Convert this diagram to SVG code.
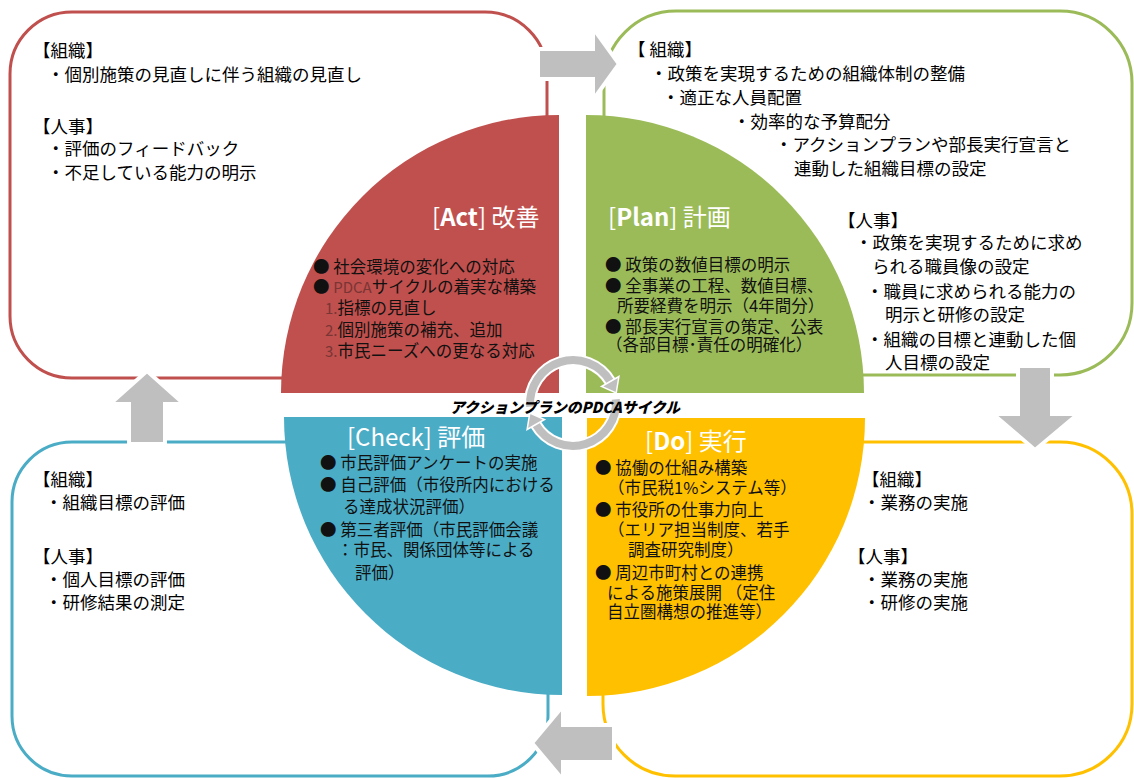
<svg xmlns="http://www.w3.org/2000/svg" width="1134" height="778" viewBox="0 0 1134 778">
<style>
.box{fill:#fff;stroke-width:3}
.arr{fill:#BFBFBF;stroke:#fff;stroke-width:4;stroke-linejoin:miter}
.t{font-family:"Noto Sans CJK JP","Noto Sans",sans-serif;font-size:17.5px;fill:#000}
.q{font-family:"Noto Sans CJK JP","Noto Sans",sans-serif;font-size:16.5px;fill:#111}
.h{font-family:"Noto Sans CJK JP","Noto Sans",sans-serif;font-size:24px;fill:#fff}
.b{font-weight:bold}
.dk{fill:#7a3535;font-size:15px}
.ring{fill:none;stroke:#BFBFBF;stroke-width:8}
.ringw{fill:none;stroke:#fff;stroke-width:12}
.lbl{font-family:"Noto Sans CJK JP","Noto Sans",sans-serif;font-size:15px;font-weight:900;font-style:italic;fill:#000}
</style>
<rect width="1134" height="778" fill="#fff"/>
<g id="box-act"><rect class="box" x="10" y="12" width="537" height="366" rx="62" stroke="#C0504D"/></g>
<g id="box-plan"><rect class="box" x="604" y="11" width="528" height="364" rx="72" stroke="#9BBB59"/></g>
<g id="box-check"><rect class="box" x="12" y="442" width="536" height="334" rx="60" stroke="#4BACC6"/></g>
<g id="box-do"><rect class="box" x="603" y="442" width="529" height="334" rx="72" stroke="#FFC000"/></g>
<g id="connectors">
<polygon class="arr" points="538,49 593,49 593,28 619,64 593,100 593,79 538,79"/>
<polygon class="arr" points="1018,366 1052,366 1052,414 1078,414 1035,450 993,414 1018,414"/>
<polygon class="arr" points="614,725 563,725 563,706 532,743 563,780 563,762 614,762"/>
<polygon class="arr" points="129,444 129,404 110,404 147,371 184,404 165,404 165,444"/>
</g>
<g id="quad-act"><path d="M559,393 L281,393 A278,278 0 0 1 559,115 Z" fill="#C0504D"/>
<text class="h" x="432" y="226">[<tspan class="b">Act</tspan>] 改善</text>
<text class="q" x="313" y="273">● 社会環境の変化への対応</text>
<text class="q" x="313" y="293">● <tspan class="dk">PDCA</tspan>サイクルの着実な構築</text>
<text class="q" x="325" y="314"><tspan class="dk">1.</tspan>指標の見直し</text>
<text class="q" x="325" y="336"><tspan class="dk">2.</tspan>個別施策の補充、追加</text>
<text class="q" x="325" y="357"><tspan class="dk">3.</tspan>市民ニーズへの更なる対応</text>
</g>
<g id="quad-plan"><path d="M586,393 L586,115 A278,278 0 0 1 864,393 Z" fill="#9BBB59"/>
<text class="h" x="608" y="226">[<tspan class="b">Plan</tspan>] 計画</text>
<text class="q" x="605" y="271">● 政策の数値目標の明示</text>
<text class="q" x="605" y="292">● 全事業の工程、数値目標、</text>
<text class="q" x="617" y="312">所要経費を明示（4年間分）</text>
<text class="q" x="605" y="333">● 部長実行宣言の策定、公表</text>
<text class="q" x="606" y="351">（各部目標･責任の明確化）</text>
</g>
<g id="quad-check"><path d="M562,417 L562,695 A278,278 0 0 1 284,417 Z" fill="#4BACC6"/>
<text class="h" x="347" y="446">[Check] 評価</text>
<text class="q" x="320" y="469">● 市民評価アンケートの実施</text>
<text class="q" x="320" y="491">● 自己評価（市役所内における</text>
<text class="q" x="343" y="513">る達成状況評価）</text>
<text class="q" x="320" y="536">● 第三者評価（市民評価会議</text>
<text class="q" x="337" y="556">：市民、関係団体等による</text>
<text class="q" x="355" y="579">評価）</text>
</g>
<g id="quad-do"><path d="M587,418 L865,418 A278,278 0 0 1 587,696 Z" fill="#FFC000"/>
<text class="h" x="645" y="450">[<tspan class="b">Do</tspan>] 実行</text>
<text class="q" x="595" y="474">● 協働の仕組み構築</text>
<text class="q" x="608" y="494">（市民税1%システム等）</text>
<text class="q" x="595" y="516">● 市役所の仕事力向上</text>
<text class="q" x="608" y="536">（エリア担当制度、若手</text>
<text class="q" x="628" y="556">調査研究制度）</text>
<text class="q" x="595" y="579">● 周辺市町村との連携</text>
<text class="q" x="607" y="599">による施策展開 （定住</text>
<text class="q" x="607" y="618">自立圏構想の推進等）</text>
</g>
<g id="cycle">
<path class="ringw" d="M530.2,406.7 A43,43 0 0 1 610.2,381.5"/>
<path class="ringw" d="M615.8,399.3 A43,43 0 0 1 535.8,424.5"/>
<path class="ring" d="M530.2,406.7 A43,43 0 0 1 610.2,381.5"/>
<polygon points="618.9,376.5 616.2,393 601.5,386.5" fill="#BFBFBF" stroke="#fff" stroke-width="1.5"/>
<path class="ring" d="M615.8,399.3 A43,43 0 0 1 535.8,424.5"/>
<polygon points="527.1,429.5 529.8,413 544.5,419.5" fill="#BFBFBF" stroke="#fff" stroke-width="1.5"/>
<text class="lbl" x="565" y="413" text-anchor="middle" textLength="230" lengthAdjust="spacingAndGlyphs">アクションプランのPDCAサイクル</text>
</g>
<g id="text-act">
<text class="t" x="33" y="57">【組織】</text>
<text class="t" x="47" y="81">・個別施策の見直しに伴う組織の見直し</text>
<text class="t" x="33" y="133">【人事】</text>
<text class="t" x="47" y="155">・評価のフィードバック</text>
<text class="t" x="47" y="179">・不足している能力の明示</text>
</g>
<g id="text-plan">
<text class="t" x="628" y="56">【 組織】</text>
<text class="t" x="650" y="80">・政策を実現するための組織体制の整備</text>
<text class="t" x="662" y="104">・適正な人員配置</text>
<text class="t" x="733" y="128">・効率的な予算配分</text>
<text class="t" x="775" y="151">・アクションプランや部長実行宣言と</text>
<text class="t" x="794" y="175">連動した組織目標の設定</text>
<text class="t" x="838" y="227">【人事】</text>
<text class="t" x="855" y="249">・政策を実現するために求め</text>
<text class="t" x="872" y="273">られる職員像の設定</text>
<text class="t" x="866" y="298">・職員に求められる能力の</text>
<text class="t" x="885" y="321">明示と研修の設定</text>
<text class="t" x="866" y="346">・組織の目標と連動した個</text>
<text class="t" x="885" y="369">人目標の設定</text>
</g>
<g id="text-check">
<text class="t" x="33" y="486">【組織】</text>
<text class="t" x="45" y="509">・組織目標の評価</text>
<text class="t" x="33" y="563">【人事】</text>
<text class="t" x="45" y="586">・個人目標の評価</text>
<text class="t" x="45" y="609">・研修結果の測定</text>
</g>
<g id="text-do">
<text class="t" x="862" y="486">【組織】</text>
<text class="t" x="863" y="509">・業務の実施</text>
<text class="t" x="848" y="563">【人事】</text>
<text class="t" x="863" y="586">・業務の実施</text>
<text class="t" x="863" y="609">・研修の実施</text>
</g>
</svg>
